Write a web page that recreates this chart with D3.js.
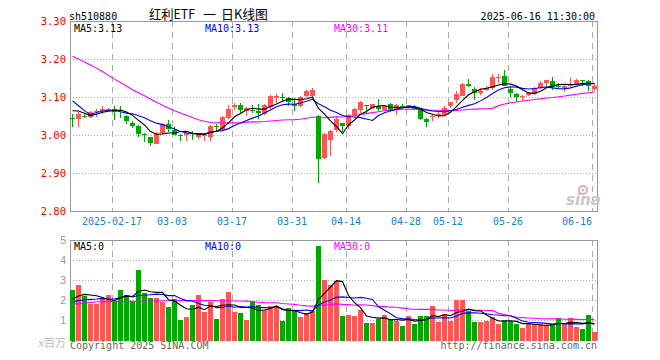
<!DOCTYPE html>
<html><head><meta charset="utf-8">
<script src="https://cdn.jsdelivr.net/npm/d3@7"></script>
<style>body{margin:0;background:#fff}svg{display:block}</style>
</head><body><svg id="c" width="660" height="360"></svg>
<script>
const dates = ["2025-02-06","2025-02-07","2025-02-10","2025-02-11","2025-02-12","2025-02-13","2025-02-14","2025-02-17","2025-02-18","2025-02-19",
"2025-02-20","2025-02-21","2025-02-24","2025-02-25","2025-02-26","2025-02-27","2025-02-28","2025-03-03","2025-03-04","2025-03-05",
"2025-03-06","2025-03-07","2025-03-10","2025-03-11","2025-03-12","2025-03-13","2025-03-14","2025-03-17","2025-03-18","2025-03-19",
"2025-03-20","2025-03-21","2025-03-24","2025-03-25","2025-03-26","2025-03-27","2025-03-28","2025-03-31","2025-04-01","2025-04-02",
"2025-04-03","2025-04-07","2025-04-08","2025-04-09","2025-04-10","2025-04-11","2025-04-14","2025-04-15","2025-04-16","2025-04-17",
"2025-04-18","2025-04-21","2025-04-22","2025-04-23","2025-04-24","2025-04-25","2025-04-28","2025-04-29","2025-04-30","2025-05-06",
"2025-05-07","2025-05-08","2025-05-09","2025-05-12","2025-05-13","2025-05-14","2025-05-15","2025-05-16","2025-05-19","2025-05-20",
"2025-05-21","2025-05-22","2025-05-23","2025-05-26","2025-05-27","2025-05-28","2025-05-29","2025-05-30","2025-06-03","2025-06-04",
"2025-06-05","2025-06-06","2025-06-09","2025-06-10","2025-06-11","2025-06-12","2025-06-13","2025-06-16"];

const open = [3.045,3.043,3.051,3.047,3.063,3.062,3.067,3.069,3.067,3.051,
3.032,3.024,3.002,2.994,2.977,3.005,3.030,3.012,2.999,3.000,
3.004,2.995,2.999,2.996,3.024,3.014,3.046,3.074,3.080,3.062,
3.066,3.062,3.056,3.074,3.098,3.101,3.097,3.082,3.075,3.102,
3.102,3.051,2.940,2.986,3.014,3.032,3.024,3.053,3.065,3.079,
3.070,3.077,3.067,3.081,3.065,3.075,3.073,3.073,3.067,3.042,
3.047,3.051,3.053,3.075,3.093,3.103,3.135,3.121,3.111,3.119,
3.124,3.151,3.156,3.121,3.109,3.100,3.106,3.109,3.124,3.138,
3.141,3.129,3.124,3.128,3.135,3.144,3.141,3.122];
const high = [3.056,3.060,3.056,3.062,3.069,3.077,3.072,3.075,3.075,3.053,
3.036,3.027,3.005,2.996,3.008,3.031,3.040,3.020,3.003,3.009,
3.010,3.005,3.005,3.027,3.029,3.050,3.080,3.084,3.084,3.073,
3.078,3.082,3.082,3.106,3.108,3.110,3.101,3.097,3.103,3.118,
3.124,3.053,3.005,3.014,3.049,3.032,3.055,3.070,3.089,3.080,
3.082,3.094,3.080,3.083,3.082,3.082,3.080,3.080,3.070,3.046,
3.056,3.061,3.077,3.088,3.115,3.137,3.147,3.126,3.124,3.130,
3.161,3.161,3.172,3.126,3.111,3.106,3.114,3.126,3.141,3.146,
3.153,3.137,3.135,3.150,3.147,3.146,3.146,3.135];
const low = [3.021,3.022,3.045,3.046,3.047,3.056,3.062,3.040,3.045,3.030,
3.019,2.994,2.981,2.972,2.976,3.003,3.007,2.999,2.983,2.983,
2.986,2.990,2.985,2.985,3.010,3.012,3.043,3.066,3.058,3.051,
3.058,3.043,3.053,3.066,3.084,3.090,3.075,3.062,3.073,3.100,
3.097,2.873,2.937,2.944,3.009,3.009,3.017,3.052,3.057,3.058,
3.068,3.064,3.062,3.060,3.052,3.068,3.071,3.066,3.040,3.021,
3.036,3.045,3.051,3.070,3.084,3.102,3.126,3.091,3.106,3.116,
3.119,3.138,3.130,3.101,3.088,3.089,3.103,3.105,3.122,3.128,
3.119,3.121,3.112,3.126,3.131,3.129,3.117,3.117];
const close = [3.043,3.056,3.050,3.061,3.064,3.068,3.069,3.061,3.066,3.038,
3.024,3.003,3.001,2.979,3.003,3.029,3.015,3.001,2.998,3.005,
3.003,3.001,3.000,3.024,3.021,3.047,3.068,3.080,3.067,3.071,
3.065,3.057,3.080,3.103,3.103,3.100,3.086,3.077,3.100,3.115,
3.119,2.938,3.003,3.010,3.042,3.024,3.053,3.068,3.086,3.078,
3.081,3.068,3.075,3.064,3.078,3.074,3.078,3.068,3.042,3.034,
3.051,3.056,3.071,3.086,3.109,3.135,3.128,3.111,3.117,3.124,
3.153,3.152,3.130,3.110,3.100,3.103,3.111,3.124,3.138,3.146,
3.127,3.128,3.128,3.135,3.145,3.143,3.130,3.128];
const volume = [2.5,2.75,2.2,1.8,1.8,2.08,2.25,1.95,2.5,2.25,
1.92,3.5,2.33,2.08,2.08,1.92,1.67,2.03,1.0,1.17,
1.75,2.25,1.42,1.92,1.05,2.03,2.38,1.38,1.33,1.0,
1.92,1.75,1.5,1.7,1.67,0.95,1.58,1.45,1.17,1.33,
1.45,4.72,3.0,2.73,2.95,1.2,1.25,1.2,1.5,0.87,
0.87,1.03,1.25,1.03,0.95,0.72,1.2,0.82,1.2,1.2,
1.7,0.92,1.3,0.97,2.0,2.0,1.45,0.92,0.92,0.97,
1.17,0.78,0.95,0.95,0.8,0.62,0.78,0.78,0.78,0.7,
0.78,1.08,0.78,1.08,0.67,0.55,1.25,0.42];

// moving-average values before enough in-window history
const ma5Head = [3.064,3.063,3.057,3.051];
const ma10Head = [3.090,3.077,3.064,3.053,3.059,3.063,3.065,3.065,3.061];
const ma30Head = [3.207,3.200,3.192,3.184,3.176,3.167,3.157,3.147,3.138,3.129,3.119,3.111,3.103,3.095,3.086,3.078,3.071,3.064,3.058,3.052,3.046,3.040,3.036,3.033,3.032,3.032,3.032,3.032,3.032];
const vma5Head = [2.05,2.2,2.28,2.25];
const vma10Head = [1.92,1.97,2.0,2.03,2.05,2.08,2.05,2.05,2.12];
const vma30Head = [1.8,1.82,1.85,1.88,1.9,1.92,1.93,1.93,1.93,1.93,1.93,1.93,1.95,1.95,1.95,1.96,1.96,1.96,1.97,1.97,1.97,1.97,1.97,1.97,1.96,1.96,1.96,1.95,1.95];

const tickDates = ["2025-02-17","2025-03-03","2025-03-17","2025-03-31","2025-04-14","2025-04-28","2025-05-12","2025-05-26","2025-06-16"];
const tickLabels = ["2025-02-17","03-03","03-17","03-31","04-14","04-28","05-12","05-26","06-16"];
const priceTicks = [3.30,3.20,3.10,3.00,2.90,2.80];
const volTicks = [5,4,3,2,1];
const titleParts = ["红利ETF","一","日K线图"];
const headerPrice = ["MA5:3.13","MA10:3.13","MA30:3.11"];
const headerVol = ["MA5:0","MA10:0","MA30:0"];

const RED="#ff5555", GREEN="#00a800", GRID="#aaaaaa", MONO="'DejaVu Sans Mono', monospace";
const svg=d3.select("#c");
const L=70,R=598,PT=21,PB=211,VT=240,VB=340;
const x=d3.scaleBand().domain(dates).range([L,L+dates.length*6-1]).paddingInner(1/6).paddingOuter(0).align(0);
const yP=d3.scaleLinear().domain([2.80,3.30]).range([PB,PT]);
const yV=d3.scaleLinear().domain([0,5]).range([VB,VT]);

function ma(arr,n,head){return arr.map((v,i)=> i<n-1 ? head[i] : d3.mean(arr.slice(i-n+1,i+1)));}

// header
svg.append("text").attr("x",69).attr("y",20).attr("font-family",MONO).attr("font-size",10).text("sh510880");
const tpos=[[149,46],[203,13],[221,47]];
titleParts.forEach((t,i)=>{
  svg.append("text").attr("x",tpos[i][0]).attr("y",19).attr("font-family","'Noto Sans CJK SC'").attr("font-size",13)
    .attr("textLength",tpos[i][1]).attr("lengthAdjust","spacingAndGlyphs").text(t);
});
svg.append("text").attr("x",595).attr("y",20).attr("text-anchor","end").attr("font-family",MONO).attr("font-size",10).text("2025-06-16 11:30:00");

// grids
const g=svg.append("g").attr("shape-rendering","crispEdges");
priceTicks.slice(1,-1).forEach(t=>{
  g.append("line").attr("x1",L).attr("x2",R).attr("y1",Math.round(yP(t))+0.5).attr("y2",Math.round(yP(t))+0.5)
   .attr("stroke",GRID).attr("stroke-dasharray","1,2");
});
volTicks.slice(1).forEach(t=>{
  g.append("line").attr("x1",L).attr("x2",R).attr("y1",Math.round(yV(t))+0.5).attr("y2",Math.round(yV(t))+0.5)
   .attr("stroke",GRID).attr("stroke-dasharray","1,2");
});
tickDates.forEach(d=>{
  const xx=Math.round(x(d))+0.5;
  g.append("line").attr("x1",xx).attr("x2",xx).attr("y1",PT).attr("y2",PB).attr("stroke",GRID).attr("stroke-dasharray","6,5");
  g.append("line").attr("x1",xx).attr("x2",xx).attr("y1",VT).attr("y2",VB).attr("stroke",GRID).attr("stroke-dasharray","6,5");
});
// boxes
g.append("rect").attr("x",L+0.5).attr("y",PT+0.5).attr("width",R-L-1).attr("height",PB-PT).attr("fill","none").attr("stroke","#999");
g.append("path").attr("d",`M${L+0.5},${VB}V${VT+0.5}H${R-0.5}V${VB}`).attr("fill","none").attr("stroke","#999");

// price axis labels
priceTicks.forEach(t=>{
  svg.append("text").attr("x",66).attr("y",yP(t)).attr("dy","0.35em").attr("text-anchor","end")
   .attr("font-family",MONO).attr("font-size",10.5).attr("fill","#ff0000").text(t.toFixed(2));
});
// vol axis labels
volTicks.forEach(t=>{
  svg.append("text").attr("x",66).attr("y",yV(t)).attr("dy","0.35em").attr("text-anchor","end")
   .attr("font-family","'Liberation Sans',sans-serif").attr("font-size",10.5).attr("fill","#999").text(t);
});
svg.append("text").attr("x",66).attr("y",347).attr("text-anchor","end").attr("font-family","'Noto Sans CJK SC'")
  .attr("font-size",11).attr("fill","#bbb").text("x百万");

// date labels
tickDates.forEach((d,i)=>{
  const xx=x(d), w=tickLabels[i].length*6;
  const anchor = (xx+w/2>R-4) ? "end" : "middle";
  svg.append("text").attr("x",xx).attr("y",225).attr("text-anchor",anchor).attr("font-family",MONO)
    .attr("font-size",10).attr("fill","#1a7fcf").text(tickLabels[i]);
});

// sina watermark
const wm=svg.append("g");
wm.append("circle").attr("cx",583).attr("cy",190).attr("r",4).attr("fill","none").attr("stroke","#f2a5a5").attr("stroke-width",2);
wm.append("circle").attr("cx",583).attr("cy",190).attr("r",1.3).attr("fill","#f2a5a5");
wm.append("text").attr("x",566).attr("y",205).attr("font-family","'DejaVu Sans'").attr("font-weight","bold")
  .attr("font-style","italic").attr("font-size",15).attr("fill","#c8c8c8").text("sina");

// candles + volume bars
const cg=svg.append("g").attr("shape-rendering","crispEdges");
dates.forEach((d,i)=>{
  const up=close[i]>=open[i], col=up?RED:GREEN, bx=Math.round(x(d));
  const yh=Math.round(yP(high[i])), yl=Math.round(yP(low[i]));
  cg.append("rect").attr("x",bx+2).attr("y",yh).attr("width",1).attr("height",Math.max(1,yl-yh)).attr("fill",col);
  const yt=Math.round(yP(Math.max(open[i],close[i]))), yb=Math.round(yP(Math.min(open[i],close[i])));
  cg.append("rect").attr("x",bx).attr("y",yt).attr("width",5).attr("height",Math.max(1,yb-yt)).attr("fill",col);
  const yv=Math.round(yV(volume[i]));
  cg.append("rect").attr("x",bx).attr("y",yv).attr("width",5).attr("height",VB+1-yv).attr("fill",col);
});

// MA lines
const lineP=d3.line().x((v,i)=>x(dates[i])+2.5).y(v=>yP(v));
const lineV=d3.line().x((v,i)=>x(dates[i])+2.5).y(v=>yV(v));
[[ma(close,30,ma30Head),"#ff00ff"],[ma(close,10,ma10Head),"#0000ff"],[ma(close,5,ma5Head),"#000"]].forEach(([arr,c])=>{
  svg.append("path").attr("d",lineP(arr)).attr("fill","none").attr("stroke",c).attr("stroke-width",1.1);
});
[[ma(volume,30,vma30Head),"#ff00ff"],[ma(volume,10,vma10Head),"#0000ff"],[ma(volume,5,vma5Head),"#000"]].forEach(([arr,c])=>{
  svg.append("path").attr("d",lineV(arr)).attr("fill","none").attr("stroke",c).attr("stroke-width",1.1);
});

// MA headers
const hx=[74,205,334], hc=["#000","#0000ff","#ff00ff"];
headerPrice.forEach((t,i)=>svg.append("text").attr("x",hx[i]).attr("y",32).attr("font-family",MONO).attr("font-size",10).attr("fill",hc[i]).text(t));
headerVol.forEach((t,i)=>svg.append("text").attr("x",hx[i]).attr("y",250).attr("font-family",MONO).attr("font-size",10).attr("fill",hc[i]).text(t));

// footer
svg.append("text").attr("x",70).attr("y",349).attr("font-family",MONO).attr("font-size",10).attr("fill","#666").text("Copyright 2025 SINA.COM");
svg.append("text").attr("x",597).attr("y",349).attr("text-anchor","end").attr("font-family",MONO).attr("font-size",10).attr("fill","#666").text("http://finance.sina.com.cn");
</script></body></html>
